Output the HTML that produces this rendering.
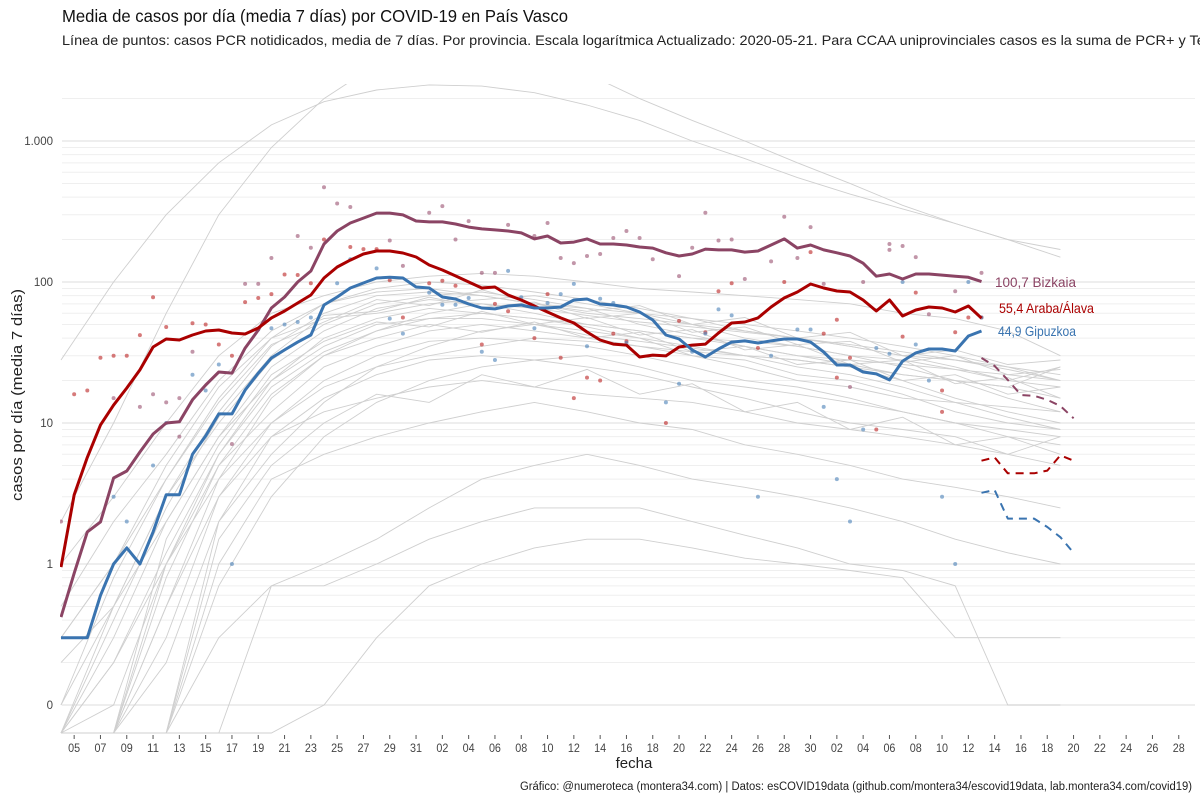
<!DOCTYPE html>
<html><head><meta charset="utf-8"><style>
html,body{margin:0;padding:0;background:#fff;}
svg{display:block;font-family:"Liberation Sans",sans-serif;}
</style></head><body>
<svg id="chart" width="1200" height="800" viewBox="0 0 1200 800" xmlns="http://www.w3.org/2000/svg">
<rect x="0" y="0" width="1200" height="800" fill="#fff"/>
<defs><clipPath id="plotclip"><rect x="60" y="84" width="1135" height="650"/></clipPath></defs>
<g id="grid"></g>
<g id="gray" clip-path="url(#plotclip)"></g>
<g id="points" clip-path="url(#plotclip)"></g>
<g id="lines" clip-path="url(#plotclip)"></g>
<g id="yaxis"></g>
<g id="xaxis"></g>
<text x="62" y="22" font-size="17.5" fill="#111" textLength="506" lengthAdjust="spacingAndGlyphs">Media de casos por día (media 7 días) por COVID-19 en País Vasco</text>
<text x="62" y="45" font-size="14" fill="#222" textLength="1150" lengthAdjust="spacingAndGlyphs">Línea de puntos: casos PCR notidicados, media de 7 días. Por provincia. Escala logarítmica  Actualizado: 2020-05-21. Para CCAA uniprovinciales casos es la suma de PCR+ y Tes</text>
<text transform="translate(22,395) rotate(-90)" text-anchor="middle" font-size="15" fill="#222" textLength="212" lengthAdjust="spacingAndGlyphs">casos por día (media 7 días)</text>
<text x="634" y="768" text-anchor="middle" font-size="15" fill="#222">fecha</text>
<text x="1192" y="790" text-anchor="end" font-size="11.5" fill="#222" textLength="672" lengthAdjust="spacingAndGlyphs">Gráfico: @numeroteca (montera34.com) | Datos: esCOVID19data (github.com/montera34/escovid19data, lab.montera34.com/covid19)</text>
<text x="995" y="287" font-size="14" fill="#8B4464" textLength="81" lengthAdjust="spacingAndGlyphs">100,7 Bizkaia</text>
<text x="999" y="313" font-size="14" fill="#AA0000" textLength="95" lengthAdjust="spacingAndGlyphs">55,4 Araba/Álava</text>
<text x="998" y="336" font-size="14" fill="#3A74B0" textLength="78" lengthAdjust="spacingAndGlyphs">44,9 Gipuzkoa</text>
</svg>
<script>
// day index 0 = 2020-03-04
const yTickVals = [0.1, 1, 10, 100, 1000];
const yTickLabels = ["0", "1", "10", "100", "1.000"];
const arabaVals = [0.95,3.1,5.7,9.7,13.4,17.7,23.8,34.6,39.4,38.8,42.1,44.9,45.7,43.5,42.8,47.2,55.6,62.3,71,80.9,106.7,127.7,143,158,166,166,160.5,150.4,132,121.7,110.4,100,90.6,92.2,80.9,74.5,67.6,61.3,55.6,51.2,44.2,38.8,36.3,35.7,29.4,30.3,29.9,34.6,35.7,36.3,43.5,51.2,52,55.6,66.5,77.1,85,96.8,90.6,86.3,85,74.5,62.3,74.5,57.4,63.3,66.5,65.4,61.3,67.6,55.4];
const bizkaiaVals = [0.42,0.86,1.69,1.99,4.07,4.57,6.23,8.36,10,10.2,14.6,18.6,23,22.6,34,45.7,65.4,78.3,100,119.7,186,230,262,284,308,308,299,271,267,267,258,245,238,234,230,223,202,212,189,192,202,186,186,183,177,174,161,153,158,171,169,169,163,166,183,202,174,183,169,161,153,136,110,114,105,114,114,112,110,108,100.7];
const gipuzkoaVals = [0.3,0.3,0.3,0.6,1.0,1.3,1.0,1.69,3.1,3.1,6.0,8.1,11.6,11.6,17.1,22.6,28.9,33,37.5,42.1,68.7,78.3,90.6,98.4,106.7,108,106.7,92.2,90.6,78.3,75.7,69.8,65.4,64.4,67.6,68.7,65.4,65.4,66.5,74.5,75.7,69.8,68.7,66.5,61.3,53.8,42.1,39.4,33,29.4,33.5,37.5,38.2,36.9,38.2,39.4,39.4,37.5,31.9,25.8,25.8,23,22.3,20.2,27.5,31.4,33.5,33.5,32.4,41.4,44.9];
const dashStartDay = 70;
const bizkaiaPcr = [28.9,25.4,20.2,15.8,15.6,14.6,13.2,10.8];
const arabaPcr = [5.4,5.7,4.4,4.4,4.4,4.6,5.9,5.4];
const gipuzkoaPcr = [3.2,3.35,2.1,2.1,2.1,1.83,1.55,1.2];
const arabaPtDays = [1,2,3,4,5,6,7,8,10,11,12,13,14,15,16,17,18,19,20,22,23,24,25,26,28,29,30,32,33,34,36,37,38,39,40,41,42,43,46,47,49,50,51,53,55,57,58,59,59,60,62,64,65,67,67,68,69,70];
const arabaPtVals = [16,17,29,30,30,42,78,48,51,50,36,30,72,77,82,113,112,98,200,177,171,171,103,56,98,102,94,36,70,62,40,82,29,15,21,20,43,38,10,53,44,86,98,34,100,163,43,54,21,29,9,41,84,17,12,44,56,56];
const bizkaiaPtDays = [0,4,6,7,8,9,9,10,13,14,15,16,18,19,20,21,22,25,26,28,29,30,31,32,33,34,36,37,38,39,40,41,42,43,44,45,47,48,49,50,51,52,54,55,56,57,58,60,61,63,63,64,65,66,68,70];
const bizkaiaPtVals = [2,15,13,16,14,15,8,32,7.1,97,97,148,212,175,470,360,340,197,130,310,345,200,270,116,116,254,212,262,148,136,153,158,205,230,205,145,110,175,310,197,200,105,140,290,148,245,97,18,100,186,169,180,150,59,86,116];
const gipuzkoaPtDays = [4,5,7,8,10,11,12,13,15,16,17,18,19,21,22,24,25,26,28,29,30,31,32,33,34,35,36,37,38,39,40,41,42,43,46,47,48,49,50,51,53,54,56,57,58,59,60,61,62,63,64,65,66,67,68,69,70];
const gipuzkoaPtVals = [3,2,5,10,22,17,26,1,46,47,50,52,56,98,145,125,55,43,84,69,69,77,32,28,120,78,47,71,82,97,35,76,71,37,14,19,32,43,64,58,3,30,46,46,13,4,2,9,34,31,100,36,20,3,1,100,56];
// other provinces, sampled every 4 days from day 0 to 76
const grayStep = 4;
const gray01 = [28,100,300,700,1300,1900,2300,2500,2450,2200,1800,1400,1000,750,550,420,330,260,200,150];
const gray02 = [2,10,60,300,900,2000,3500,5000,5500,4500,3000,2000,1400,1000,700,500,350,260,200,170];
const gray03 = [0.3,1,4,15,40,70,90,100,95,85,75,65,55,50,45,40,35,30,25,22];
const gray04 = [0.1,0.5,3,12,35,60,80,85,80,70,60,55,50,45,40,35,30,28,25,20];
const gray05 = [0,0.3,2,8,25,45,65,75,70,60,50,45,40,35,30,26,22,20,18,15];
const gray06 = [0,0,1,6,20,40,55,65,60,55,48,40,35,30,28,25,20,15,12,10];
const gray07 = [0.5,2,6,20,45,70,85,90,80,70,65,60,55,45,40,35,30,25,20,25];
const gray08 = [0,0,0.5,4,15,30,45,55,60,55,50,45,40,38,35,30,28,24,20,18];
const gray09 = [0,0.1,1,5,12,25,35,45,50,45,40,35,30,28,22,20,16,12,10,9];
const gray10 = [0,0,0.3,3,10,20,30,38,40,38,35,30,25,20,18,15,12,10,8,7];
const gray11 = [0,0,0,2,8,15,22,28,30,28,25,22,18,15,12,10,9,8,6,5];
const gray12 = [0,0,0,1,4,6,8,10,12,14,12,10,9,7,6,5,4,3.5,3,2.5];
const gray13 = [0,0,0,0,0.7,1,1.5,2.5,4,5,6,5,4,3.5,3,2.5,2,1.5,1.2,1];
const gray14 = [0,0,0,0.3,0.7,0.7,1,1.5,2,2.5,2.5,2.5,2,1.6,1.3,1,0.9,0.7,0.1,0.1];
const gray15 = [0,0,0,0,0,0.1,0.3,0.7,1,1.3,1.5,1.5,1.3,1.1,1,0.9,0.8,0.3,0.3,0.3];
const gray16 = [1,3,10,30,60,80,100,110,115,110,100,90,85,80,75,70,60,55,45,30];
const gray17 = [0.3,1,5,18,40,55,60,70,75,80,70,60,50,40,35,30,25,20,15,12];
const gray18 = [0,0.2,1,4,10,18,25,30,35,40,38,35,32,30,28,25,22,20,18,25];
const gray19 = [0,0,0.5,3,8,12,15,18,20,18,16,15,14,12,10,9,8,7,6,8];
const gray20 = [0.2,0.5,2,8,20,35,50,55,55,50,42,38,34,30,25,22,18,14,11,9];
const gray21 = [0,0.5,3,10,28,50,70,80,85,75,65,50,42,35,30,28,26,24,22,20];
const gray22 = [0,0,0.2,2,6,14,25,35,45,50,45,40,30,25,20,18,15,14,13,12];
const gray23 = [0,0,0,0.7,3,8,14,20,25,28,30,25,20,18,16,14,12,10,9,8];
const gray24 = [0,0.4,2.5,11,30,58,62,78,66,72,55,60,44,48,36,38,27,30,22,24];
const gray25 = [0,0,1.5,7,22,38,52,48,62,50,56,42,46,33,36,26,28,19,21,15];
const gray26 = [0.1,0.8,4,14,36,52,75,68,88,70,62,68,50,56,40,44,30,33,26,28];
const gray27 = [0,0,0.8,5,16,30,40,50,44,52,40,44,32,35,26,28,20,22,16,18];
const gray28 = [0,0,0,1.5,5,10,16,14,22,18,24,16,19,12,14,9,11,7,8,6];
const gray29 = [0,0.2,1.2,6,18,32,45,60,70,65,58,52,48,44,40,36,32,28,24,20];
const grayAll = [gray01,gray02,gray03,gray04,gray05,gray06,gray07,gray08,gray09,gray10,gray11,gray12,gray13,gray14,gray15,gray16,gray17,gray18,gray19,gray20,gray21,gray22,gray23,gray24,gray25,gray26,gray27,gray28,gray29];

const NS = "http://www.w3.org/2000/svg";
function xS(d){ return 61 + 13.15 * d; }
function yS(v){ if (v <= 0) return 733; return 564 - 141 * Math.log10(v); }
function mk(tag, attrs, parent){ const e = document.createElementNS(NS, tag); for (const k in attrs) e.setAttribute(k, attrs[k]); parent.appendChild(e); return e; }

const grid = document.getElementById('grid');
for (let p = -1; p <= 3; p++) {
  for (let m = 1; m <= 9; m++) {
    const v = m * Math.pow(10, p);
    if (v < 0.1 || v > 3000) continue;
    const y = yS(v);
    if (y < 84) continue;
    const l = mk('line', {x1: 62, x2: 1195, y1: y, y2: y, stroke: m === 1 ? '#e3e3e3' : '#efefef', 'stroke-width': m === 1 ? 1.2 : 1}, grid);
    
    
  }
}
const yaxis = document.getElementById('yaxis');
yTickVals.forEach((v, i) => {
  const t = mk('text', {x: 53, y: yS(v) + 4, 'text-anchor': 'end', 'font-size': 11.5, fill: '#444'}, yaxis);
  
  
  t.textContent = yTickLabels[i];
});
const xaxis = document.getElementById('xaxis');
for (let d = 1; d <= 85; d += 2) {
  const dt = new Date(Date.UTC(2020, 2, 4 + d));
  const lab = String(dt.getUTCDate()).padStart(2, '0');
  const x = xS(d);
  const tk = mk('line', {x1: x, x2: x, y1: 735, y2: 739, stroke: '#555', 'stroke-width': 1}, xaxis);
  
  
  const t = mk('text', {x: x, y: 752, 'text-anchor': 'middle', 'font-size': 11.5, fill: '#444', textLength: 12, lengthAdjust: 'spacingAndGlyphs'}, xaxis);
  
  
  t.textContent = lab;
}
function pathFrom(vals, start, step){ return vals.map((v, i) => (i ? 'L' : 'M') + xS(start + i * step).toFixed(1) + ' ' + yS(v).toFixed(1)).join(' '); }
const gray = document.getElementById('gray');
grayAll.forEach((arr) => {
  const p = mk('path', {d: pathFrom(arr, 0, grayStep), fill: 'none', stroke: '#cfcfcf', 'stroke-width': 0.9}, gray);
  
  
});
const pts = document.getElementById('points');
function drawPts(days, vals, color, name){
  days.forEach((d, i) => {
    const c = mk('circle', {cx: xS(d), cy: yS(vals[i]), r: 2, fill: color, 'fill-opacity': 0.6}, pts);
    
    
  });
}
drawPts(arabaPtDays, arabaPtVals, '#BB2222', 'araba-daily-point');
drawPts(bizkaiaPtDays, bizkaiaPtVals, '#9A5070', 'bizkaia-daily-point');
drawPts(gipuzkoaPtDays, gipuzkoaPtVals, '#4A80B8', 'gipuzkoa-daily-point');
const lines = document.getElementById('lines');
function drawLine(vals, start, color, dashed, name){
  const a = {d: pathFrom(vals, start, 1), fill: 'none', stroke: color, 'stroke-width': dashed ? 2 : 3, 'stroke-linejoin': 'round'};
  if (dashed) a['stroke-dasharray'] = '8,6';
  const p = mk('path', a, lines);
  
  
}
drawLine(bizkaiaVals, 0, '#8B4464', false, 'bizkaia-line');
drawLine(arabaVals, 0, '#AA0000', false, 'araba-line');
drawLine(gipuzkoaVals, 0, '#3A74B0', false, 'gipuzkoa-line');
drawLine(bizkaiaPcr, dashStartDay, '#8B4464', true, 'bizkaia-pcr-line');
drawLine(arabaPcr, dashStartDay, '#AA0000', true, 'araba-pcr-line');
drawLine(gipuzkoaPcr, dashStartDay, '#3A74B0', true, 'gipuzkoa-pcr-line');
</script>
</body></html>
